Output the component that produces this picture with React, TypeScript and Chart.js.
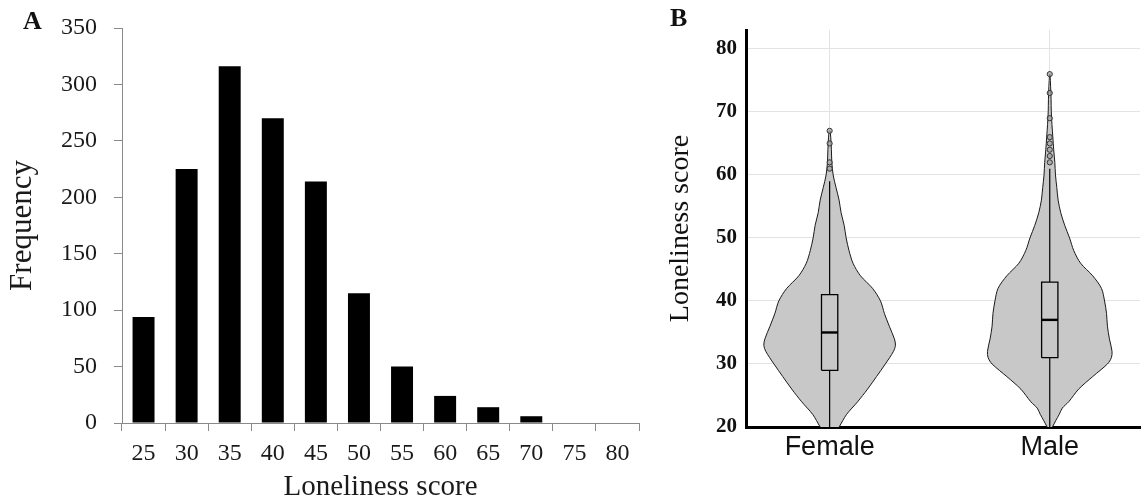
import React, { useEffect, useRef } from 'react';
import { Chart, registerables } from 'chart.js';

Chart.register(...registerables);

// ---------- Panel A: histogram ----------
const scoreBins = ['25', '30', '35', '40', '45', '50', '55', '60', '65', '70', '75', '80'];
const frequencies = [94, 225, 316, 270, 214, 115, 50, 24, 14, 6, 0, 0];

// ---------- Panel B: violin plots ----------
const groups = ['Female', 'Male'];
const scoreTicksB = [20, 30, 40, 50, 60, 70, 80];
const femaleDensityY = [18, 19, 20, 22, 24, 26, 28, 30, 32, 33, 34, 36, 38, 40, 42, 44, 46, 48, 50, 52, 54, 56, 58, 60, 62, 64, 66, 67];
const femaleHalfWidth = [0.008, 0.024, 0.043, 0.077, 0.127, 0.172, 0.213, 0.253, 0.29, 0.299, 0.294, 0.271, 0.249, 0.231, 0.195, 0.14, 0.106, 0.088, 0.075, 0.066, 0.052, 0.043, 0.029, 0.016, 0.01, 0.008, 0.005, 0.002];
const maleDensityY = [19.5, 20, 21, 22, 23, 24, 26, 28, 30, 31, 32, 34, 36, 38, 40, 42, 44, 46, 48, 50, 52, 54, 56, 58, 60, 62, 64, 66, 68, 70, 72, 74, 76];
const maleHalfWidth = [0.002, 0.012, 0.027, 0.043, 0.057, 0.086, 0.131, 0.195, 0.262, 0.28, 0.283, 0.271, 0.262, 0.258, 0.249, 0.235, 0.195, 0.14, 0.109, 0.09, 0.068, 0.05, 0.038, 0.032, 0.026, 0.023, 0.018, 0.014, 0.01, 0.007, 0.006, 0.004, 0.001];
const femaleQuartiles = [29, 35, 41];
const maleQuartiles = [31, 37, 43];
const femaleWhiskers = [19, 59];
const maleWhiskers = [19, 61];
const femaleOutliers = [61, 62, 65, 67];
const maleOutliers = [62, 63, 64, 65, 66, 69, 73, 76];
const boxHalfWidth = 0.037;

const serif = '"Liberation Serif", "Times New Roman", serif';
const sans = '"Liberation Sans", Arial, sans-serif';

export default function App() {
  const refA = useRef<HTMLCanvasElement>(null);
  const refB = useRef<HTMLCanvasElement>(null);

  useEffect(() => {
    const chartA = new Chart(refA.current!, {
      type: 'bar',
      data: {
        labels: scoreBins,
        datasets: [
          {
            data: frequencies,
            backgroundColor: '#000',
            borderWidth: 0,
            categoryPercentage: 1,
            barPercentage: 0.51,
          },
        ],
      },
      options: {
        animation: false,
        responsive: false,
        maintainAspectRatio: false,
        layout: { autoPadding: false, padding: { top: 28, right: 6, left: 0, bottom: 0 } },
        plugins: { legend: { display: false }, tooltip: { enabled: false } },
        scales: {
          x: {
            offset: true,
            grid: { display: true, drawOnChartArea: false, drawTicks: true, tickLength: 8, color: '#8a8a8a', offset: true },
            border: { color: '#8a8a8a', width: 1 },
            ticks: { font: { family: serif, size: 24 }, color: '#1a1a1a', padding: 8, maxRotation: 0, autoSkip: false },
            title: { display: true, text: 'Loneliness score', font: { family: serif, size: 29, lineHeight: 1 }, color: '#1a1a1a', padding: 0 },
            afterFit: (s: any) => { s.height = 79; },
          },
          y: {
            min: 0,
            max: 350,
            grid: { display: true, drawOnChartArea: false, drawTicks: true, tickLength: 8, color: '#8a8a8a' },
            border: { color: '#8a8a8a', width: 1 },
            ticks: { stepSize: 50, font: { family: serif, size: 24, lineHeight: 0.7 }, color: '#1a1a1a', padding: 17 },
            title: { display: true, text: 'Frequency', font: { family: serif, size: 31, lineHeight: 1 }, color: '#1a1a1a', padding: { top: 7.5, bottom: 0 } },
            afterFit: (s: any) => { s.width = 122; },
          },
        },
      } as any,
    });

    const overlays: any[] = [];
    const violins: any[] = [];
    const groupData = [
      { ys: femaleDensityY, ws: femaleHalfWidth, q: femaleQuartiles, wh: femaleWhiskers, out: femaleOutliers },
      { ys: maleDensityY, ws: maleHalfWidth, q: maleQuartiles, wh: maleWhiskers, out: maleOutliers },
    ];
    groupData.forEach((g, i) => {
      const c = i + 1;
      const lineBase = { type: 'line', pointRadius: 0, tension: 0, fill: false, borderColor: '#000' };
      overlays.push({
        type: 'line',
        data: g.out.map((y) => ({ x: c, y })),
        showLine: false,
        pointRadius: 2.6,
        pointBackgroundColor: 'rgba(160,160,160,0.7)',
        pointBorderColor: '#333',
        pointBorderWidth: 1,
      });
      overlays.push({
        ...lineBase,
        data: [{ x: c - boxHalfWidth, y: g.q[1] }, { x: c + boxHalfWidth, y: g.q[1] }],
        borderWidth: 2.4,
      });
      overlays.push({
        ...lineBase,
        data: [
          { x: c - boxHalfWidth, y: g.q[0] },
          { x: c + boxHalfWidth, y: g.q[0] },
          { x: c + boxHalfWidth, y: g.q[2] },
          { x: c - boxHalfWidth, y: g.q[2] },
          { x: c - boxHalfWidth, y: g.q[0] },
        ],
        borderWidth: 1.3,
      });
      overlays.push({ ...lineBase, data: [{ x: c, y: g.wh[0] }, { x: c, y: g.q[0] }], borderWidth: 1.2 });
      overlays.push({ ...lineBase, data: [{ x: c, y: g.q[2] }, { x: c, y: g.wh[1] }], borderWidth: 1.2 });
      violins.push({
        type: 'line',
        data: g.ys.map((y, k) => ({ x: c + g.ws[k], y })),
        borderColor: '#1a1a1a',
        borderWidth: 1,
        backgroundColor: '#c8c8c8',
        fill: { value: c },
        pointRadius: 0,
        tension: 0.3,
      });
      violins.push({
        type: 'line',
        data: g.ys.map((y, k) => ({ x: c - g.ws[k], y })),
        borderColor: '#1a1a1a',
        borderWidth: 1,
        backgroundColor: '#c8c8c8',
        fill: { value: c + 0.004 },
        pointRadius: 0,
        tension: 0.3,
      });
    });

    const chartB = new Chart(refB.current!, {
      type: 'line',
      data: { datasets: [...overlays, ...violins] },
      options: {
        animation: false,
        responsive: false,
        maintainAspectRatio: false,
        indexAxis: 'y',
        layout: { autoPadding: false, padding: { top: 30, right: 6, left: 0, bottom: 0 } },
        plugins: { legend: { display: false }, tooltip: { enabled: false } },
        scales: {
          x: {
            type: 'linear',
            min: 0.62,
            max: 2.41,
            offset: false,
            afterBuildTicks: (s: any) => { s.ticks = groups.map((_, i) => ({ value: i + 1 })); },
            ticks: {
              callback: (v: any) => groups[Math.round(v) - 1] ?? '',
              font: { family: sans, size: 27 },
              color: '#111',
              padding: 4,
              autoSkip: false,
              maxRotation: 0,
            },
            grid: { color: '#e3e3e3', drawTicks: false, lineWidth: 1 },
            border: { color: '#000', width: 3 },
            afterFit: (s: any) => { s.height = 75; },
          },
          y: {
            type: 'linear',
            min: 20,
            max: 83,
            afterBuildTicks: (s: any) => { s.ticks = scoreTicksB.map((value) => ({ value })); },
            ticks: { font: { family: serif, size: 21, weight: 'bold' }, color: '#111', padding: 9 },
            grid: { color: '#e3e3e3', drawTicks: false, lineWidth: 1 },
            border: { color: '#000', width: 3 },
            title: { display: true, text: 'Loneliness score', font: { family: serif, size: 28, lineHeight: 1 }, color: '#111', padding: { top: 26.5, bottom: 0 } },
            afterFit: (s: any) => { s.width = 106; },
          },
        },
      } as any,
    } as any);

    return () => {
      chartA.destroy();
      chartB.destroy();
    };
  }, []);

  return (
    <div style={{ position: 'absolute', left: 0, top: 0, width: 1146, height: 502, background: '#fff', overflow: 'hidden' }}>
      <canvas ref={refA} width={645} height={502} style={{ position: 'absolute', left: 0, top: 0, width: 645, height: 502 }} />
      <canvas ref={refB} width={506} height={502} style={{ position: 'absolute', left: 640, top: 0, width: 506, height: 502 }} />
      <div style={{ position: 'absolute', left: 23, top: 8, font: `bold 26px ${serif}`, lineHeight: '26px', color: '#111' }}>A</div>
      <div style={{ position: 'absolute', left: 670, top: 5, font: `bold 26px ${serif}`, lineHeight: '26px', color: '#111' }}>B</div>
    </div>
  );
}
